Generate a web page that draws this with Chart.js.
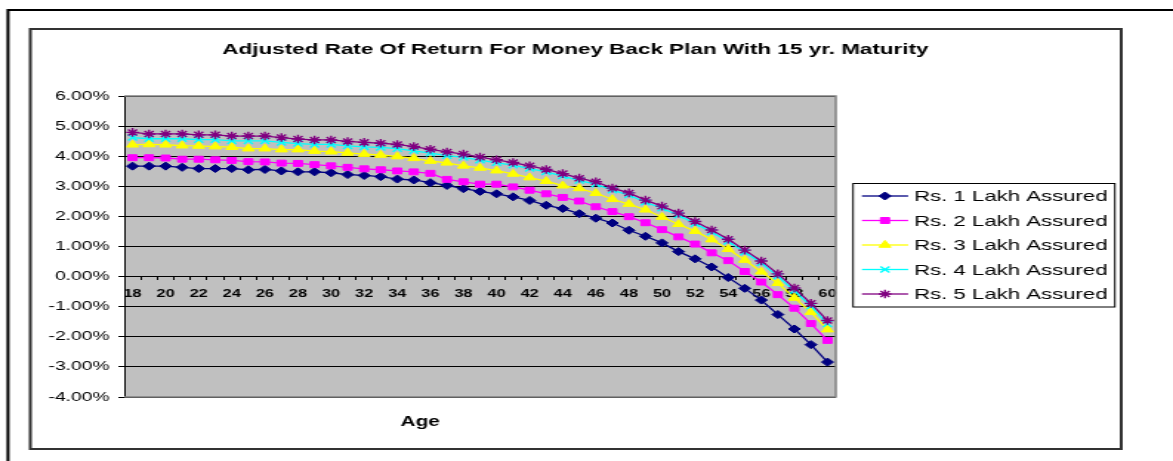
<!DOCTYPE html>
<html>
<head>
<meta charset="utf-8">
<title>Adjusted Rate Of Return</title>
<script src="https://cdn.jsdelivr.net/npm/chart.js"></script>
<style>
  html, body { margin: 0; padding: 0; background: #fff; overflow: hidden; }
  #chart { display: block; }
</style>
</head>
<body>
<!-- the reference is a horizontally stretched Excel picture, so the canvas is too -->
<canvas id="chart" width="793" height="461" style="width:1173px;height:461px"></canvas>
<script>
// ages on the x axis
const ages = [];
for (let a = 18; a <= 60; a++) ages.push(String(a));

// values (percent)
const lakh1 = [3.67, 3.67, 3.67, 3.63, 3.59, 3.59, 3.59, 3.55, 3.56, 3.51,
  3.48, 3.48, 3.45, 3.39, 3.36, 3.32, 3.24, 3.21, 3.12, 3.03,
  2.92, 2.83, 2.75, 2.65, 2.53, 2.37, 2.26, 2.09, 1.94, 1.78,
  1.54, 1.34, 1.12, 0.83, 0.59, 0.32, -0.03, -0.39, -0.78, -1.26,
  -1.74, -2.26, -2.84];
const lakh2 = [3.95, 3.95, 3.94, 3.90, 3.90, 3.88, 3.86, 3.82, 3.81, 3.77,
  3.76, 3.72, 3.68, 3.63, 3.58, 3.55, 3.51, 3.48, 3.43, 3.23,
  3.15, 3.07, 3.07, 2.98, 2.87, 2.75, 2.63, 2.51, 2.32, 2.16,
  1.99, 1.79, 1.56, 1.32, 1.08, 0.79, 0.53, 0.17, -0.18, -0.60,
  -1.05, -1.56, -2.12];
const lakh3 = [4.38, 4.39, 4.38, 4.35, 4.34, 4.32, 4.30, 4.25, 4.25, 4.22,
  4.22, 4.17, 4.15, 4.11, 4.07, 4.04, 3.99, 3.93, 3.84, 3.78,
  3.68, 3.61, 3.52, 3.41, 3.29, 3.17, 3.02, 2.93, 2.77, 2.57,
  2.41, 2.22, 1.98, 1.74, 1.51, 1.23, 0.91, 0.55, 0.16, -0.22,
  -0.71, -1.18, -1.76];
const lakh4 = [4.62, 4.58, 4.58, 4.58, 4.55, 4.55, 4.51, 4.51, 4.51, 4.46,
  4.42, 4.39, 4.39, 4.34, 4.31, 4.29, 4.25, 4.18, 4.10, 4.02,
  3.96, 3.87, 3.78, 3.70, 3.59, 3.48, 3.34, 3.19, 3.07, 2.87,
  2.71, 2.47, 2.27, 2.04, 1.76, 1.48, 1.17, 0.81, 0.45, 0.01,
  -0.47, -0.98, -1.57];
const lakh5 = [4.79, 4.74, 4.74, 4.74, 4.71, 4.71, 4.67, 4.67, 4.67, 4.62,
  4.57, 4.54, 4.54, 4.49, 4.46, 4.43, 4.39, 4.32, 4.23, 4.14,
  4.07, 3.97, 3.88, 3.79, 3.68, 3.56, 3.42, 3.27, 3.15, 2.94,
  2.78, 2.54, 2.34, 2.11, 1.83, 1.55, 1.24, 0.88, 0.52, 0.09,
  -0.38, -0.89, -1.46];

const seriesNames = ['Rs. 1 Lakh Assured', 'Rs. 2 Lakh Assured', 'Rs. 3 Lakh Assured',
  'Rs. 4 Lakh Assured', 'Rs. 5 Lakh Assured'];
const seriesData = [lakh1, lakh2, lakh3, lakh4, lakh5];
const seriesColors = ['#000080', '#FF00FF', '#FFFF00', '#00FFFF', '#800080'];
const seriesMarkers = ['rectRot', 'rect', 'triangle', 'crossRot', 'star'];

const chartTitle = 'Adjusted Rate Of Return For Money Back Plan With 15 yr. Maturity';
const xTitle = 'Age';
const FONT = "'Liberation Sans', Arial, sans-serif";

const W = 793; // logical width, shown stretched to 1173px

function markerRadius(style) {
  if (style === 'rect') return 4.2;
  if (style === 'triangle') return 4.6;
  if (style === 'rectRot') return 4;
  return 4.3;
}

const datasets = seriesData.map((d, i) => ({
  label: seriesNames[i],
  data: d,
  borderColor: seriesColors[i],
  backgroundColor: seriesColors[i],
  borderWidth: 1.3,
  pointStyle: seriesMarkers[i],
  pointRadius: markerRadius(seriesMarkers[i]),
  pointBorderWidth: (seriesMarkers[i] === 'crossRot' || seriesMarkers[i] === 'star') ? 1.4 : 1,
  pointBackgroundColor: seriesColors[i],
  pointBorderColor: seriesColors[i],
  tension: 0,
  order: 5 - i
}));

// frames, grey plot area, title, axis title and legend
const decor = {
  id: 'decor',
  beforeDraw(chart) {
    const ctx = chart.ctx;
    const a = chart.chartArea;
    ctx.save();
    ctx.fillStyle = '#fff';
    ctx.fillRect(0, 0, chart.width, chart.height);
    // outer frame
    ctx.strokeStyle = '#000';
    ctx.lineWidth = 2;
    ctx.beginPath();
    ctx.moveTo(5.4, 470);
    ctx.lineTo(5.4, 10);
    ctx.lineTo(W + 5, 10);
    ctx.stroke();
    // chart frame
    ctx.strokeStyle = '#333';
    ctx.lineWidth = 2;
    ctx.strokeRect(20.5, 29, 737.5, 420);
    // plot area
    ctx.fillStyle = '#C0C0C0';
    ctx.fillRect(a.left, a.top, a.right - a.left, a.bottom - a.top);
    ctx.restore();
  },
  beforeDatasetsDraw(chart) {
    const ctx = chart.ctx;
    const a = chart.chartArea;
    ctx.save();
    ctx.strokeStyle = '#808080';
    ctx.lineWidth = 1.5;
    ctx.beginPath();
    ctx.moveTo(a.left, a.top);
    ctx.lineTo(a.right, a.top);
    ctx.lineTo(a.right, a.bottom);
    ctx.lineTo(a.left, a.bottom);
    ctx.stroke();
    ctx.restore();
  },
  afterDraw(chart) {
    const ctx = chart.ctx;
    ctx.save();
    ctx.fillStyle = '#000';
    ctx.textAlign = 'center';
    ctx.textBaseline = 'middle';
    ctx.font = 'bold 15.2px ' + FONT;
    ctx.fillText(chartTitle, 389, 50);
    ctx.font = 'bold 14px ' + FONT;
    ctx.fillText(xTitle, 284, 422);

    // legend
    ctx.strokeStyle = '#000';
    ctx.lineWidth = 1;
    ctx.strokeRect(576.7, 183.5, 177, 123.5);
    const rowY = [196, 220.5, 245, 269.5, 294];
    ctx.textAlign = 'left';
    ctx.font = '15px ' + FONT;
    seriesNames.forEach((name, i) => {
      const y = rowY[i];
      ctx.strokeStyle = seriesColors[i];
      ctx.fillStyle = seriesColors[i];
      ctx.lineWidth = 1.3;
      ctx.beginPath();
      ctx.moveTo(582.7, y);
      ctx.lineTo(613.9, y);
      ctx.stroke();
      const opts = {
        pointStyle: seriesMarkers[i],
        radius: markerRadius(seriesMarkers[i]),
        rotation: 0,
        borderWidth: (seriesMarkers[i] === 'crossRot' || seriesMarkers[i] === 'star') ? 1.4 : 1
      };
      ctx.lineWidth = opts.borderWidth;
      if (Chart.helpers && Chart.helpers.drawPoint) {
        Chart.helpers.drawPoint(ctx, opts, 598.3, y);
      }
      ctx.fillStyle = '#000';
      ctx.fillText(name, 617.9, y + 1);
    });
    ctx.restore();
  }
};

new Chart(document.getElementById('chart'), {
  type: 'line',
  data: { labels: ages, datasets: datasets },
  options: {
    responsive: false,
    animation: false,
    devicePixelRatio: 1,
    layout: { padding: { left: 0, top: 96, right: 228, bottom: 64 } },
    plugins: {
      legend: { display: false },
      title: { display: false },
      tooltip: { enabled: false }
    },
    scales: {
      x: {
        type: 'category',
        offset: true,
        position: { y: 0 },
        grid: { display: true, drawOnChartArea: false, drawTicks: true, tickLength: 3, offset: true, color: '#000' },
        border: { display: true, color: '#000', width: 1 },
        ticks: {
          autoSkip: false,
          maxRotation: 0,
          padding: 8,
          color: '#000',
          font: { family: FONT, size: 11, weight: 'bold' },
          callback: function (v, i) { return i % 2 === 0 ? this.getLabelForValue(v) : ''; }
        }
      },
      y: {
        min: -4,
        max: 6,
        ticks: {
          stepSize: 1,
          padding: 6,
          color: '#000',
          font: { family: FONT, size: 13 },
          callback: v => v.toFixed(2) + '%'
        },
        grid: { color: '#000', lineWidth: 1, tickLength: 4 },
        border: { display: true, color: '#000', width: 1 },
        afterFit: s => { s.width = 84; }
      }
    }
  },
  plugins: [decor]
});
</script>
</body>
</html>
